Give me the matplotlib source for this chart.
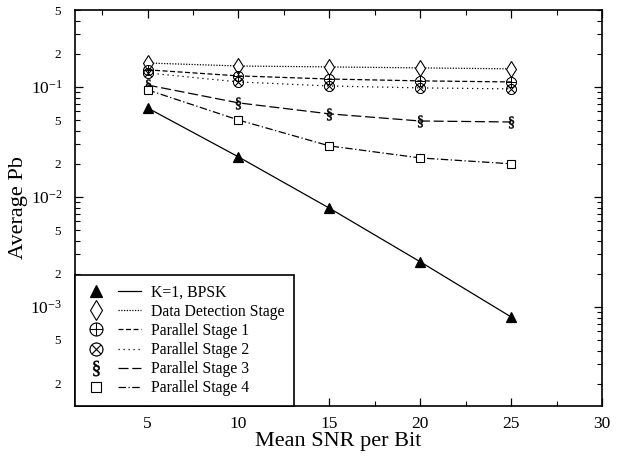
import math
import matplotlib
matplotlib.use("Agg")
import matplotlib.pyplot as plt
from matplotlib.lines import Line2D
from matplotlib.legend_handler import HandlerTuple
from matplotlib.ticker import FixedLocator, FuncFormatter, MultipleLocator

plt.rcParams["font.family"] = ["Liberation Serif", "DejaVu Serif"]
plt.rcParams["mathtext.fontset"] = "custom"
plt.rcParams["mathtext.rm"] = "Liberation Serif"
plt.rcParams["mathtext.it"] = "Liberation Serif:italic"

# Mean SNR per bit (dB)
snr = [5, 10, 15, 20, 25]

# Average bit error probability for each receiver stage
pb_bpsk = [0.0644, 0.0231, 0.0079, 0.00257, 0.00081]
pb_detect = [0.165, 0.155, 0.152, 0.149, 0.146]
pb_stage1 = [0.143, 0.126, 0.118, 0.1135, 0.111]
pb_stage2 = [0.134, 0.111, 0.102, 0.098, 0.096]
pb_stage3 = [0.104, 0.0716, 0.0569, 0.049, 0.048]
pb_stage4 = [0.094, 0.050, 0.0291, 0.0226, 0.020]

labels = ["K=1, BPSK", "Data Detection Stage", "Parallel Stage 1",
          "Parallel Stage 2", "Parallel Stage 3", "Parallel Stage 4"]

x_ticks = [5, 10, 15, 20, 25, 30]

series = [pb_bpsk, pb_detect, pb_stage1, pb_stage2, pb_stage3, pb_stage4]
styles = [
    dict(marker="^", ms=6.5, mfc="black", mew=0.9, ls="-"),
    dict(marker="d", ms=8, mfc="white", mew=0.8, ls=(0, (1, 1.2))),
    dict(marker=r"$\oplus$", ms=7.5, mfc="black", mew=0.35, ls=(0, (4, 2))),
    dict(marker=r"$\otimes$", ms=7.5, mfc="black", mew=0.35, ls=(0, (1, 3))),
    dict(marker=r"$\S$", ms=8.5, mfc="black", mew=0.35, ls=(0, (8, 3))),
    dict(marker="s", ms=6, mfc="white", mew=0.8, ls=(0, (6, 2, 1, 2))),
]

fig = plt.figure(figsize=(6.19, 4.57), dpi=100)
ax = fig.add_axes([0.121, 0.112, 0.8515, 0.866])

for y, st in zip(series, styles):
    ax.plot(snr, y, color="black", lw=0.9, linestyle=st["ls"],
            marker=st["marker"], ms=st["ms"], mfc=st["mfc"], mec="black",
            mew=st["mew"])

ax.set_yscale("log")
ax.set_xlim(1, 30)
ax.set_ylim(1.26e-4, 0.5)

ax.xaxis.set_major_locator(FixedLocator(x_ticks))
ax.xaxis.set_minor_locator(MultipleLocator(2.5))
ax.set_xticklabels([str(t) for t in x_ticks])

major_y = [1e-3, 1e-2, 1e-1]
minor_y = [m * 10.0 ** e for e in (-4, -3, -2, -1) for m in range(2, 10)]
ax.yaxis.set_major_locator(FixedLocator(major_y))
ax.yaxis.set_minor_locator(FixedLocator(minor_y))
ax.yaxis.set_major_formatter(FuncFormatter(
    lambda v, p: r"$10^{%d}$" % round(math.log10(v))))


def minor_fmt(v, p):
    lead = round(v / 10.0 ** math.floor(math.log10(v) + 1e-9))
    return str(lead) if lead in (2, 5) else ""


ax.yaxis.set_minor_formatter(FuncFormatter(minor_fmt))

ax.tick_params(which="both", direction="in", top=True, right=True, color="black")
ax.tick_params(which="major", length=6, width=0.9)
ax.tick_params(which="minor", length=3.5, width=0.8)
ax.tick_params(axis="x", which="major", labelsize=12.5, pad=7)
ax.tick_params(axis="y", which="major", labelsize=12.5, pad=9)
ax.tick_params(axis="y", which="minor", labelsize=9.5, pad=10)

for s in ax.spines.values():
    s.set_linewidth(1.2)

ax.set_xlabel("Mean SNR per Bit", fontsize=16, labelpad=0)
ax.set_ylabel("Average Pb", fontsize=16, labelpad=2)

handles = []
for st in styles:
    mk = Line2D([], [], color="black", ls="none", marker=st["marker"],
                ms=st["ms"] * 1.3, mfc=st["mfc"], mec="black", mew=st["mew"])
    ln = Line2D([], [], color="black", lw=0.9, linestyle=st["ls"])
    handles.append((mk, ln))

leg = ax.legend(handles, labels, loc="lower left", bbox_to_anchor=(0, 0),
                borderaxespad=0, fontsize=11.3, frameon=True, fancybox=False,
                edgecolor="black", framealpha=1, handlelength=3.6,
                handletextpad=0.65, labelspacing=0.2, borderpad=0.6,
                handler_map={tuple: HandlerTuple(ndivide=None, pad=0.7)})
leg.get_frame().set_linewidth(1.2)

fig.savefig("out.png", dpi=100)
